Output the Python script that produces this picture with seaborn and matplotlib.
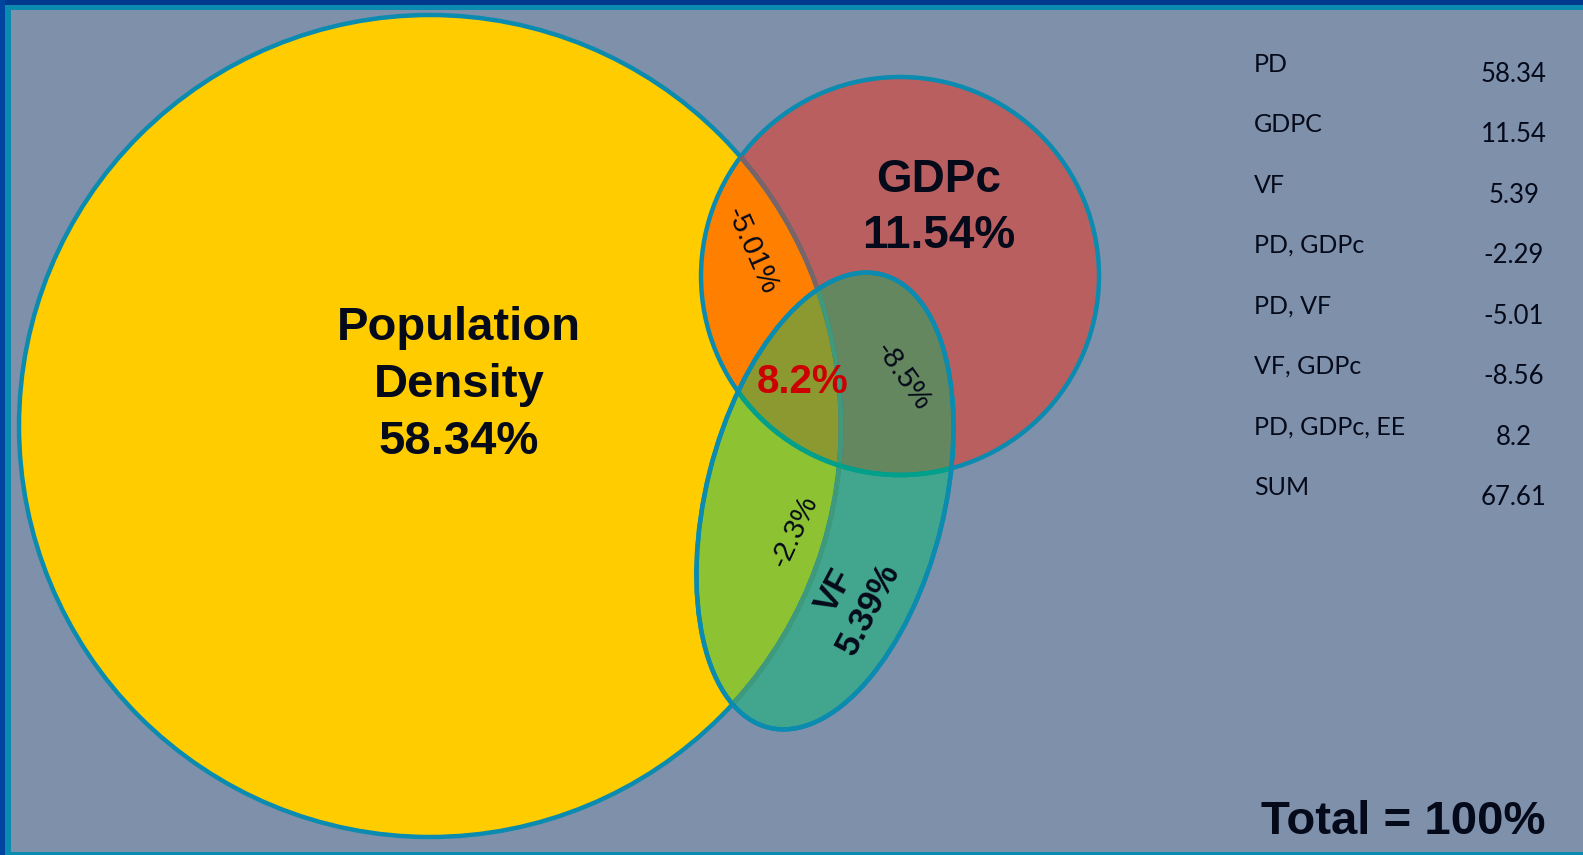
import numpy as np
import matplotlib
matplotlib.use("Agg")
import matplotlib.pyplot as plt
import seaborn as sns
from matplotlib.patches import Circle, Ellipse, Polygon, Rectangle

# --- data ---
set_names = ["Population\nDensity", "GDPc", "VF"]
set_shares = [58.34, 11.54, 5.39]
pair_labels = ["PD, GDPc", "PD, VF", "VF, GDPc"]
pair_text = ["-2.3%", "-5.01%", "-8.5%"]   # as printed inside the diagram
triple_label = "PD, GDPc, EE"
triple_share = 8.2
table_labels = ["PD", "GDPC", "VF", "PD, GDPc", "PD, VF", "VF, GDPc", "PD, GDPc, EE", "SUM"]
table_values = ["58.34", "11.54", "5.39", "-2.29", "-5.01", "-8.56", "8.2", "67.61"]
total_text = "Total = 100%"

# --- colours ---
BG = "#7F90AB"
EDGE = "#0A8BAF"
INK = "#050A1A"
C_PD = "#FFCC00"
C_GDP = "#B95F5F"
C_VF = "#42A68E"
C_PD_GDP = "#FF8000"
C_PD_VF = "#8DC332"
C_GDP_VF = "#648760"
C_ALL = "#8C9830"

sns.set_theme(style="white")
plt.rcParams["font.family"] = ["Liberation Sans", "DejaVu Sans"]

W, H = 1583, 855
fig = plt.figure(figsize=(W / 100, H / 100), dpi=100)
fig.patch.set_facecolor(BG)
ax = fig.add_axes([0, 0, 1, 1])
ax.set_xlim(0, W)
ax.set_ylim(H, 0)
ax.set_aspect("equal")
ax.axis("off")

# layout of the three shapes (pixel space)
pd_c, pd_r = (430, 426), 411
gdp_c, gdp_r = (900, 276), 199
vf_c, vf_w, vf_h, vf_ang = (825, 501), 238, 467, 14


def yellow(**kw):
    return Circle(pd_c, pd_r, **kw)


def red(**kw):
    return Circle(gdp_c, gdp_r, **kw)


def teal(**kw):
    # rotate so the top leans to the right (y axis inverted)
    return Ellipse(vf_c, vf_w, vf_h, angle=vf_ang, **kw)


def red_teal_polygon():
    # convex intersection of circle and ellipse, built from boundary samples
    t = np.linspace(0, 2 * np.pi, 2000)
    cx = gdp_c[0] + gdp_r * np.cos(t)
    cy = gdp_c[1] + gdp_r * np.sin(t)
    a, b = vf_w / 2, vf_h / 2
    th = np.deg2rad(vf_ang)
    ex0, ey0 = a * np.cos(t), b * np.sin(t)
    ex = vf_c[0] + ex0 * np.cos(th) - ey0 * np.sin(th)
    ey = vf_c[1] + ex0 * np.sin(th) + ey0 * np.cos(th)

    def in_ellipse(x, y):
        dx, dy = x - vf_c[0], y - vf_c[1]
        u = dx * np.cos(th) + dy * np.sin(th)
        v = -dx * np.sin(th) + dy * np.cos(th)
        return (u / a) ** 2 + (v / b) ** 2 <= 1

    def in_circle(x, y):
        return (x - gdp_c[0]) ** 2 + (y - gdp_c[1]) ** 2 <= gdp_r ** 2

    pts = np.vstack([
        np.column_stack([cx, cy])[in_ellipse(cx, cy)],
        np.column_stack([ex, ey])[in_circle(ex, ey)],
    ])
    m = pts.mean(axis=0)
    order = np.argsort(np.arctan2(pts[:, 1] - m[1], pts[:, 0] - m[0]))
    return pts[order]


def clipped(patch, clip_shape):
    ax.add_patch(patch)
    patch.set_clip_path(clip_shape(transform=ax.transData))


# base fills
ax.add_patch(yellow(facecolor=C_PD, edgecolor="none", zorder=1))
ax.add_patch(red(facecolor=C_GDP, edgecolor="none", zorder=1))
clipped(red(facecolor=C_PD_GDP, edgecolor="none", zorder=2), yellow)
ax.add_patch(teal(facecolor=C_VF, edgecolor="none", zorder=3))
clipped(teal(facecolor=C_PD_VF, edgecolor="none", zorder=4), yellow)
clipped(teal(facecolor=C_GDP_VF, edgecolor="none", zorder=4), red)
clipped(Polygon(red_teal_polygon(), closed=True, facecolor=C_ALL,
                edgecolor="none", zorder=5), yellow)

# outlines: the shape on top keeps a blue edge, covered edges look muted
for shape in (yellow, red, teal):
    ax.add_patch(shape(facecolor="none", edgecolor=EDGE, lw=3.2, zorder=6))
clipped(yellow(facecolor="none", edgecolor="#7A6468", lw=3.4, zorder=6.5), red)
clipped(yellow(facecolor="none", edgecolor="#3E9A7A", lw=3.4, zorder=6.6), teal)
clipped(red(facecolor="none", edgecolor="#00A08A", lw=3.4, zorder=6.6), teal)
ax.add_patch(teal(facecolor="none", edgecolor=EDGE, lw=3.2, zorder=6.8))

# frame
ax.add_patch(Rectangle((0, 0), W, 5, color="#003A8C", zorder=10, lw=0))
ax.add_patch(Rectangle((0, 0), 5, H, color="#0045A0", zorder=10, lw=0))
ax.add_patch(Rectangle((5, 5), W, 5, color="#0A8BAF", zorder=10, lw=0))
ax.add_patch(Rectangle((5, 5), 6, H, color="#0A8BAF", zorder=10, lw=0))
ax.add_patch(Rectangle((5, H - 3), W, 3, color="#0A8BAF", zorder=10, lw=0))

# set labels
bold = dict(fontweight="bold", color=INK, ha="center", va="center", zorder=8)
ax.text(459, 385, f"{set_names[0]}\n{set_shares[0]:.2f}%", fontsize=34,
        linespacing=1.38, **bold)
ax.text(939, 208, f"{set_names[1]}\n{set_shares[1]:.2f}%", fontsize=33,
        linespacing=1.36, **bold)
ax.text(852, 600, f"{set_names[2]}\n{set_shares[2]:.2f}%", fontsize=25,
        linespacing=1.2, rotation=62, rotation_mode="anchor", **bold)
ax.text(803, 382, f"{triple_share:.1f}%", fontsize=29, fontweight="bold",
        color="#CC0000", ha="center", va="center", zorder=8)

# pair labels
norm = dict(color=INK, ha="center", va="center", rotation_mode="anchor", zorder=8)
ax.text(752, 251, pair_text[1], fontsize=21, rotation=-66, **norm)
ax.text(903, 377, pair_text[2], fontsize=21, rotation=-55, **norm)
ax.text(795, 531, pair_text[0], fontsize=21, rotation=65, **norm)

# right-hand table
tab_font = ["Lato", "DejaVu Sans"]
for i, (lab, val) in enumerate(zip(table_labels, table_values)):
    y = 64 + i * 60.5
    ax.text(1254, y, lab, fontsize=18, family=tab_font,
            color=INK, ha="left", va="center", zorder=8)
    ax.text(1514, y + 10, val, fontsize=18.5, family=tab_font,
            color=INK, ha="center", va="center", zorder=8)

ax.text(1546, 822, total_text, fontsize=34, fontweight="bold", color=INK,
        ha="right", va="center", zorder=8)

fig.savefig("out.png", dpi=100, facecolor=BG)
